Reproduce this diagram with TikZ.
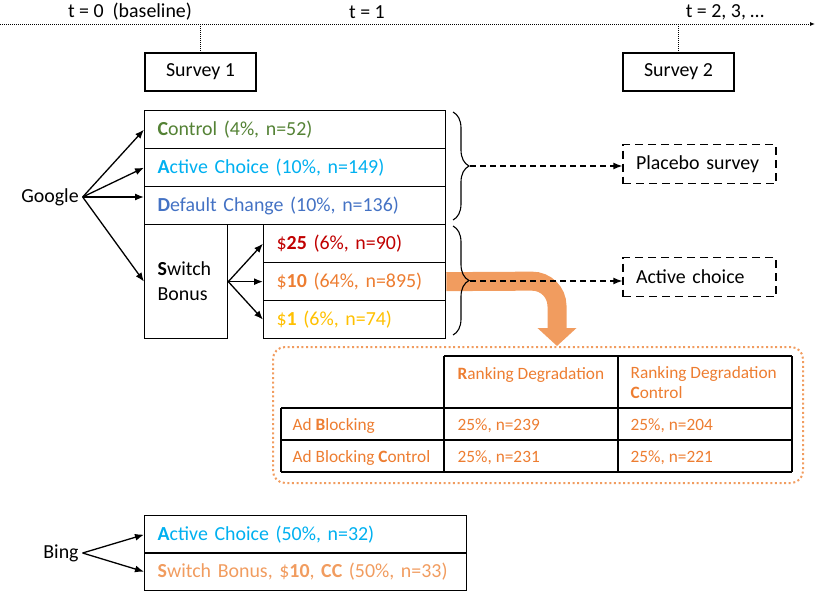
\documentclass[tikz,border=0pt]{standalone}
\usepackage{fontspec}
\setmainfont{Carlito}
\usetikzlibrary{arrows.meta,decorations.pathreplacing}
\definecolor{ctrlgreen}{HTML}{548235}
\definecolor{acblue}{HTML}{00B0F0}
\definecolor{dcblue}{HTML}{4472C4}
\definecolor{bonusred}{HTML}{C00000}
\definecolor{bonusorange}{HTML}{ED7D31}
\definecolor{bonusyellow}{HTML}{FFC000}
\definecolor{floworange}{HTML}{F19C5F}
\newcommand{\bigsz}{\fontsize{19.9}{25}\selectfont}
\newcommand{\smallsz}{\fontsize{17.3}{20}\selectfont}

\begin{document}
\begin{tikzpicture}[x=1pt, y=-1pt, line width=1.3pt,
    every node/.style={font=\bigsz},
    rowbox/.style={draw, anchor=north west, minimum height=38pt, inner xsep=13pt, inner ysep=0pt, align=left},
    dashbox/.style={draw, dash pattern=on 8pt off 5pt, minimum height=39pt, inner xsep=13pt, text width=127pt, align=left},
    tabtxt/.style={font=\smallsz, text=bonusorange, anchor=west, inner sep=0pt, align=left},
    arr/.style={-{Latex[length=9pt,width=7pt]}},
    dasharr/.style={dash pattern=on 6pt off 4pt, -{Latex[length=9pt,width=7pt]}}]
\useasboundingbox (0,0) rectangle (817,592);
% Time line
    \coordinate (tl0) at (0,24);
    \coordinate (tl1) at (815,24);
    \draw[line width=1pt, dash pattern=on 1pt off 1pt, -{Latex[length=5pt,width=4pt]}] (tl0) -- (tl1);
    \node (t0) at (130,12) {t = 0~~(baseline)};
    \node (t1) at (367,12) {t = 1};
    \node (t2) at (725,12) {t = 2, 3, …};
    \node[draw, minimum width=111pt, minimum height=38pt] (sv1) at (200.5,72) {Survey 1};
    \node[draw, minimum width=111pt, minimum height=38pt] (sv2) at (678.5,72) {Survey 2};
    \draw[line width=1pt, dash pattern=on 1pt off 1pt] (sv1.north |- tl0) -- (sv1.north);
    \draw[line width=1pt, dash pattern=on 1pt off 1pt] (sv2.north |- tl0) -- (sv2.north);
% Google arms
    \node (google) at (50,197) {Google};
    \node[rowbox, text width=275pt, text=ctrlgreen] (ctrl) at (144,110) {\textbf{C}ontrol (4\%, n=52)};
    \node[rowbox, text width=275pt, text=acblue] (actc) at (144,148) {\textbf{A}ctive Choice (10\%, n=149)};
    \node[rowbox, text width=275pt, text=dcblue] (dflt) at (144,186) {\textbf{D}efault Change (10\%, n=136)};
    \node[rowbox, text width=57pt, minimum height=114pt] (swb) at (144,224) {\textbf{S}witch\\Bonus};
    \node[rowbox, text width=156pt, text=bonusred] (sw25) at (263,224) {\$\textbf{25} (6\%, n=90)};
    \node[rowbox, text width=156pt, text=bonusorange] (sw10) at (263,262) {\$\textbf{10} (64\%, n=895)};
    \node[rowbox, text width=156pt, text=bonusyellow] (sw1) at (263,300) {\$\textbf{1} (6\%, n=74)};
    \draw[arr] (google.east) -- (ctrl.west);
    \draw[arr] (google.east) -- (actc.west);
    \draw[arr] (google.east) -- (google.east -| dflt.west);
    \draw[arr] (google.east) -- (swb.west);
    \draw[arr] (swb.east) -- (sw25.west);
    \draw[arr] (swb.east) -- (sw10.west);
    \draw[arr] (swb.east) -- (sw1.west);
% Experiment box
    \node[draw=floworange, line width=2pt, dash pattern=on 2pt off 2.6pt, rounded corners=12pt, minimum width=530pt, minimum height=136pt] (expbox) at (538,415) {};
    \coordinate (flowturn) at (557,281);
    \draw[floworange, line width=19pt, rounded corners=25pt, -{Triangle[length=18pt,width=38pt]}] (sw10.east) -- (flowturn) -- (flowturn |- expbox.north);
% Second survey
    \draw[decorate, decoration={brace, amplitude=16pt}, line width=1.1pt] (453,112) -- (453,220);
    \draw[decorate, decoration={brace, amplitude=16pt}, line width=1.1pt] (453,226) -- (453,335);
    \coordinate (brA) at (470,166);
    \coordinate (brB) at (470,281);
    \node[dashbox] (placebo) at (699.5,164) {\mbox{Placebo survey}};
    \node[dashbox] (actsv) at (699.5,277) {\mbox{Active choice}};
    \draw[dasharr] (brA) -- (brA -| placebo.west);
    \draw[dasharr] (brB) -- (brB -| actsv.west);
% West to East lines
    \draw (444,356) -- (792,356);
    \draw (281,408) -- (792,408);
    \draw (281,440) -- (792,440);
    \draw (281,472) -- (792,472);
% North to South lines
    \draw (281,408) -- (281,472);
    \draw (444,356) -- (444,472);
    \draw (618,356) -- (618,472);
    \draw (792,356) -- (792,472);
% Table texts
    \node[tabtxt] (hrd) at (457,375) {\textbf{R}anking Degradation};
    \node[tabtxt] (hrdc) at (630,383) {Ranking Degradation\\\textbf{C}ontrol};
    \node[tabtxt] (hab) at (292,426) {Ad \textbf{B}locking};
    \node[tabtxt] (habc) at (292,458) {Ad Blocking \textbf{C}ontrol};
    \node[tabtxt] (c11) at (457,426) {25\%, n=239};
    \node[tabtxt] (c12) at (630,426) {25\%, n=204};
    \node[tabtxt] (c21) at (457,458) {25\%, n=231};
    \node[tabtxt] (c22) at (630,458) {25\%, n=221};
% Bing arms
    \node (bing) at (61,553) {Bing};
    \node[rowbox, text width=296pt, text=acblue] (bac) at (144,515) {\mbox{\textbf{A}ctive Choice (50\%, n=32)}};
    \node[rowbox, text width=296pt, text=floworange] (bsw) at (144,552) {\mbox{\textbf{S}witch Bonus, \$\textbf{10}, \textbf{CC} (50\%, n=33)}};
    \draw[arr] (bing.east) -- (bac.west);
    \draw[arr] (bing.east) -- (bsw.west);
\end{tikzpicture}
\end{document}
